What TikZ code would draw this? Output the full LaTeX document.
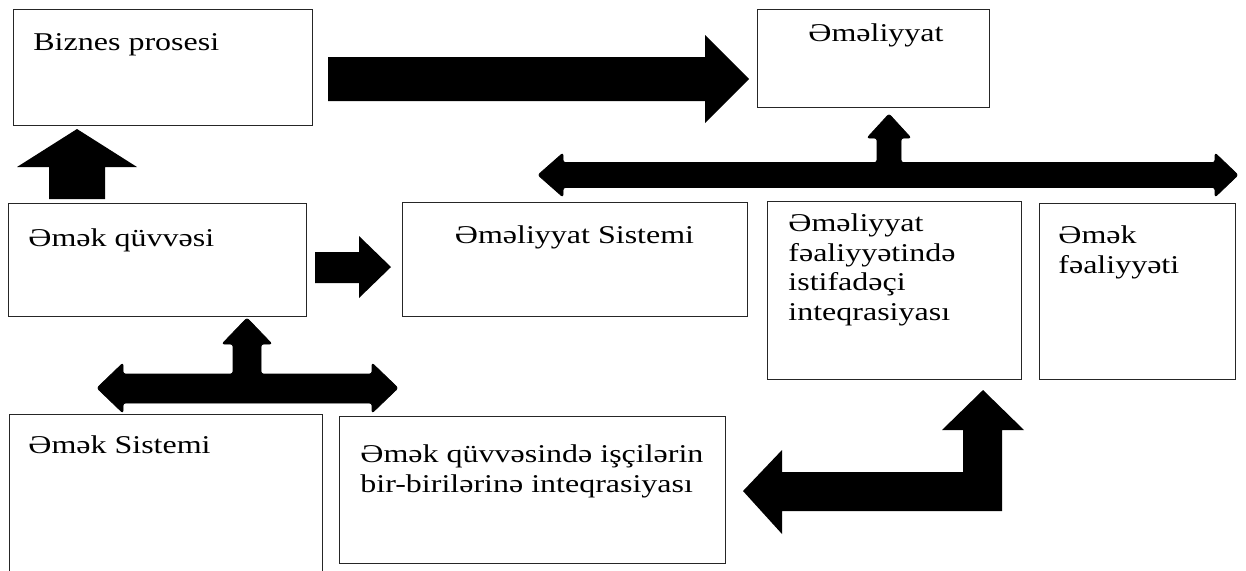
\documentclass[tikz,border=0pt]{standalone}
\usepackage{fontspec}
\setmainfont{Liberation Serif}[FakeStretch=1.25]
\usetikzlibrary{fit}
\begin{document}
\begin{tikzpicture}[x=0.5pt,y=-0.5pt,
  box/.style={draw=black!85, line width=0.5pt, inner sep=0pt},
  lbl/.style={anchor=base west, inner sep=0pt, align=left,
    font=\fontsize{12.8}{14.75}\selectfont},
  blockarrow/.style={fill=black, draw=none},
  teearrow/.style={fill=black, draw=black, line width=0.4pt, line join=round,
    rounded corners=1.2pt}]
\useasboundingbox (0,0) rectangle (1246,570);
\clip (0,0) rectangle (1246,570);

% boxes
\node[box, fit={(13,9) (312,125)}] (biz) {};
\node[box, fit={(757,9) (989,107)}] (eml) {};
\node[box, fit={(8,203) (306,316)}] (qv) {};
\node[box, fit={(402,202) (747,316)}] (ems) {};
\node[box, fit={(767,201) (1021,379)}] (efi) {};
\node[box, fit={(1039,203) (1235,379)}] (ef) {};
\node[box, fit={(9,414) (322,620)}] (es) {};
\node[box, fit={(339,416) (725,563)}] (qi) {};

% labels (multi-line labels are placed by the baseline of their last line)
\node[lbl] (tbiz) at (33,50) {Biznes prosesi};
\node[lbl] (teml) at (808,41) {Əməliyyat};
\node[lbl] (tqv) at (28,246) {Əmək qüvvəsi};
\node[lbl, anchor=base] (tems) at (574.5,243) {Əməliyyat Sistemi};
\node[lbl] (tefi) at (788,320) {Əməliyyat\\fəaliyyətində\\istifadəçi\\inteqrasiyası};
\node[lbl] (tef) at (1058,273) {Əmək\\fəaliyyəti};
\node[lbl] (tes) at (28,453) {Əmək Sistemi};
\node[lbl] (tqi) at (360,492) {Əmək qüvvəsində işçilərin\\bir-birilərinə inteqrasiyası};

% straight block arrows
\fill[blockarrow] (328,57) -- (705,57) -- (705,35) -- (749,79) -- (705,123)
  -- (705,101) -- (328,101) -- cycle;
\fill[blockarrow] (49,199) -- (49,167) -- (17,167) -- (77,129) -- (137,167)
  -- (105,167) -- (105,199) -- cycle;
\fill[blockarrow] (315,252) -- (359,252) -- (359,236) -- (391,267) -- (359,298)
  -- (359,283) -- (315,283) -- cycle;

% double-headed arrows with a branch upward
\filldraw[teearrow] (563,162.5) -- (877,162.5) -- (877,138) -- (867,138)
  -- (889,114) -- (911,138) -- (901,138) -- (901,162.5) -- (1215,162.5)
  -- (1215,153) -- (1238,175) -- (1215,197) -- (1215,187.5) -- (563,187.5)
  -- (563,197) -- (538,175) -- (563,153) -- cycle;
\filldraw[teearrow] (123,374) -- (233,374) -- (233,344) -- (222,344)
  -- (247,318) -- (272,344) -- (261,344) -- (261,374) -- (372,374)
  -- (372,363) -- (398,388) -- (372,413) -- (372,403) -- (123,403)
  -- (123,413) -- (97,388) -- (123,363) -- cycle;

% bent arrow
\fill[blockarrow] (743,491) -- (782,450) -- (782,472) -- (963,472) -- (963,430)
  -- (942,430) -- (983,390) -- (1024,430) -- (1002,430) -- (1002,511)
  -- (782,511) -- (782,534) -- cycle;
\end{tikzpicture}
\end{document}
